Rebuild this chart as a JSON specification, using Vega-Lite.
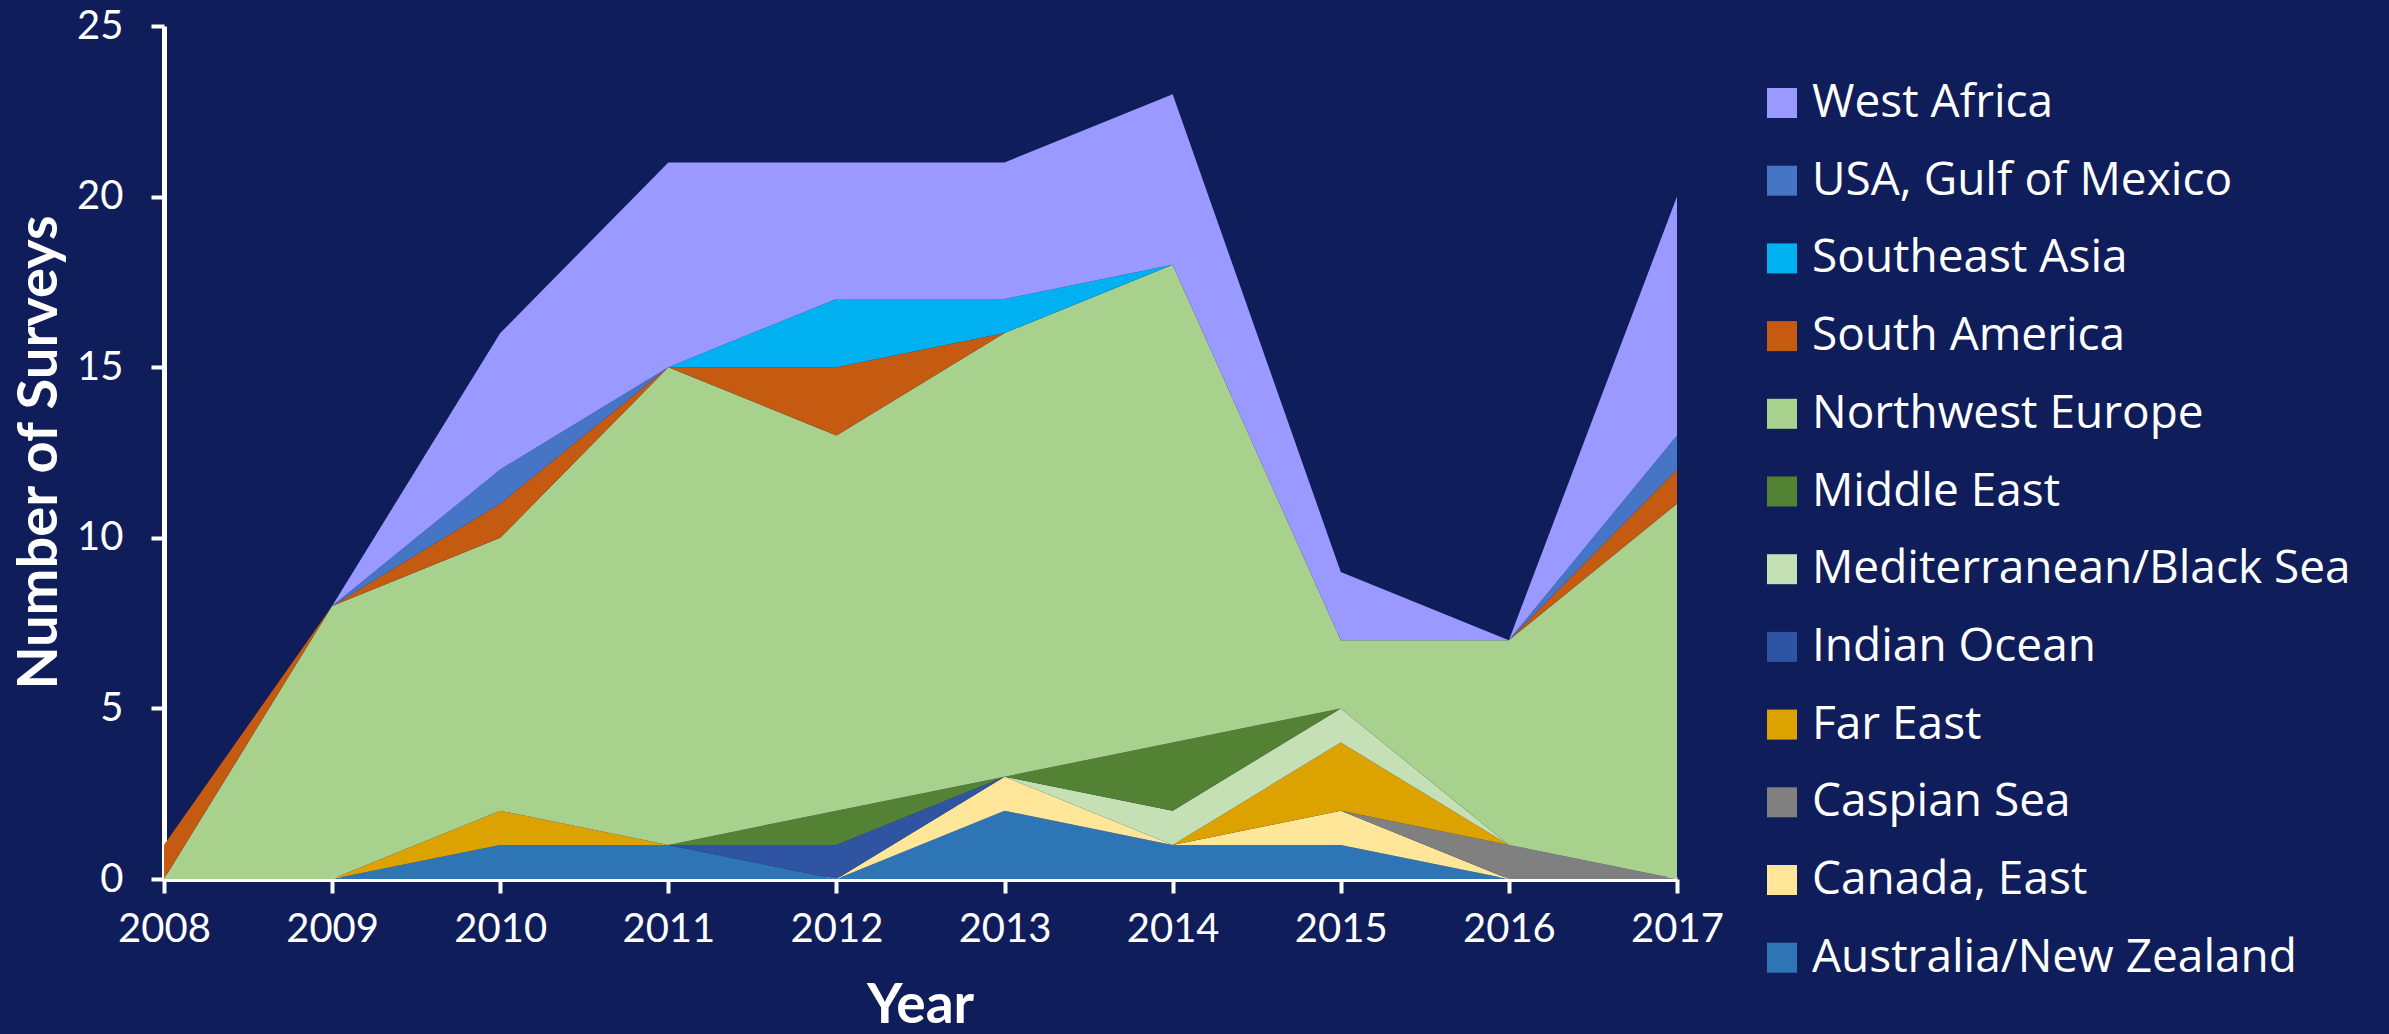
{
  "$schema": "https://vega.github.io/schema/vega-lite/v6.json",
  "autosize": "none",
  "width": 1513,
  "height": 853,
  "padding": {"left": 164, "top": 26, "right": 712, "bottom": 155},
  "background": "#101D5B",
  "config": {
    "view": {"stroke": null},
    "font": "Lato"
  },
  "data": {
    "values": [
      {"year": 2008, "region": "Australia/New Zealand", "k": 1, "n": 0},
      {"year": 2009, "region": "Australia/New Zealand", "k": 1, "n": 0},
      {"year": 2010, "region": "Australia/New Zealand", "k": 1, "n": 1},
      {"year": 2011, "region": "Australia/New Zealand", "k": 1, "n": 1},
      {"year": 2012, "region": "Australia/New Zealand", "k": 1, "n": 0},
      {"year": 2013, "region": "Australia/New Zealand", "k": 1, "n": 2},
      {"year": 2014, "region": "Australia/New Zealand", "k": 1, "n": 1},
      {"year": 2015, "region": "Australia/New Zealand", "k": 1, "n": 1},
      {"year": 2016, "region": "Australia/New Zealand", "k": 1, "n": 0},
      {"year": 2017, "region": "Australia/New Zealand", "k": 1, "n": 0},
      {"year": 2008, "region": "Canada, East", "k": 2, "n": 0},
      {"year": 2009, "region": "Canada, East", "k": 2, "n": 0},
      {"year": 2010, "region": "Canada, East", "k": 2, "n": 0},
      {"year": 2011, "region": "Canada, East", "k": 2, "n": 0},
      {"year": 2012, "region": "Canada, East", "k": 2, "n": 0},
      {"year": 2013, "region": "Canada, East", "k": 2, "n": 1},
      {"year": 2014, "region": "Canada, East", "k": 2, "n": 0},
      {"year": 2015, "region": "Canada, East", "k": 2, "n": 1},
      {"year": 2016, "region": "Canada, East", "k": 2, "n": 0},
      {"year": 2017, "region": "Canada, East", "k": 2, "n": 0},
      {"year": 2008, "region": "Caspian Sea", "k": 3, "n": 0},
      {"year": 2009, "region": "Caspian Sea", "k": 3, "n": 0},
      {"year": 2010, "region": "Caspian Sea", "k": 3, "n": 0},
      {"year": 2011, "region": "Caspian Sea", "k": 3, "n": 0},
      {"year": 2012, "region": "Caspian Sea", "k": 3, "n": 0},
      {"year": 2013, "region": "Caspian Sea", "k": 3, "n": 0},
      {"year": 2014, "region": "Caspian Sea", "k": 3, "n": 0},
      {"year": 2015, "region": "Caspian Sea", "k": 3, "n": 0},
      {"year": 2016, "region": "Caspian Sea", "k": 3, "n": 1},
      {"year": 2017, "region": "Caspian Sea", "k": 3, "n": 0},
      {"year": 2008, "region": "Far East", "k": 4, "n": 0},
      {"year": 2009, "region": "Far East", "k": 4, "n": 0},
      {"year": 2010, "region": "Far East", "k": 4, "n": 1},
      {"year": 2011, "region": "Far East", "k": 4, "n": 0},
      {"year": 2012, "region": "Far East", "k": 4, "n": 0},
      {"year": 2013, "region": "Far East", "k": 4, "n": 0},
      {"year": 2014, "region": "Far East", "k": 4, "n": 0},
      {"year": 2015, "region": "Far East", "k": 4, "n": 2},
      {"year": 2016, "region": "Far East", "k": 4, "n": 0},
      {"year": 2017, "region": "Far East", "k": 4, "n": 0},
      {"year": 2008, "region": "Indian Ocean", "k": 5, "n": 0},
      {"year": 2009, "region": "Indian Ocean", "k": 5, "n": 0},
      {"year": 2010, "region": "Indian Ocean", "k": 5, "n": 0},
      {"year": 2011, "region": "Indian Ocean", "k": 5, "n": 0},
      {"year": 2012, "region": "Indian Ocean", "k": 5, "n": 1},
      {"year": 2013, "region": "Indian Ocean", "k": 5, "n": 0},
      {"year": 2014, "region": "Indian Ocean", "k": 5, "n": 0},
      {"year": 2015, "region": "Indian Ocean", "k": 5, "n": 0},
      {"year": 2016, "region": "Indian Ocean", "k": 5, "n": 0},
      {"year": 2017, "region": "Indian Ocean", "k": 5, "n": 0},
      {"year": 2008, "region": "Mediterranean/Black Sea", "k": 6, "n": 0},
      {"year": 2009, "region": "Mediterranean/Black Sea", "k": 6, "n": 0},
      {"year": 2010, "region": "Mediterranean/Black Sea", "k": 6, "n": 0},
      {"year": 2011, "region": "Mediterranean/Black Sea", "k": 6, "n": 0},
      {"year": 2012, "region": "Mediterranean/Black Sea", "k": 6, "n": 0},
      {"year": 2013, "region": "Mediterranean/Black Sea", "k": 6, "n": 0},
      {"year": 2014, "region": "Mediterranean/Black Sea", "k": 6, "n": 1},
      {"year": 2015, "region": "Mediterranean/Black Sea", "k": 6, "n": 1},
      {"year": 2016, "region": "Mediterranean/Black Sea", "k": 6, "n": 0},
      {"year": 2017, "region": "Mediterranean/Black Sea", "k": 6, "n": 0},
      {"year": 2008, "region": "Middle East", "k": 7, "n": 0},
      {"year": 2009, "region": "Middle East", "k": 7, "n": 0},
      {"year": 2010, "region": "Middle East", "k": 7, "n": 0},
      {"year": 2011, "region": "Middle East", "k": 7, "n": 0},
      {"year": 2012, "region": "Middle East", "k": 7, "n": 1},
      {"year": 2013, "region": "Middle East", "k": 7, "n": 0},
      {"year": 2014, "region": "Middle East", "k": 7, "n": 2},
      {"year": 2015, "region": "Middle East", "k": 7, "n": 0},
      {"year": 2016, "region": "Middle East", "k": 7, "n": 0},
      {"year": 2017, "region": "Middle East", "k": 7, "n": 0},
      {"year": 2008, "region": "Northwest Europe", "k": 8, "n": 0},
      {"year": 2009, "region": "Northwest Europe", "k": 8, "n": 8},
      {"year": 2010, "region": "Northwest Europe", "k": 8, "n": 8},
      {"year": 2011, "region": "Northwest Europe", "k": 8, "n": 14},
      {"year": 2012, "region": "Northwest Europe", "k": 8, "n": 11},
      {"year": 2013, "region": "Northwest Europe", "k": 8, "n": 13},
      {"year": 2014, "region": "Northwest Europe", "k": 8, "n": 14},
      {"year": 2015, "region": "Northwest Europe", "k": 8, "n": 2},
      {"year": 2016, "region": "Northwest Europe", "k": 8, "n": 6},
      {"year": 2017, "region": "Northwest Europe", "k": 8, "n": 11},
      {"year": 2008, "region": "South America", "k": 9, "n": 1},
      {"year": 2009, "region": "South America", "k": 9, "n": 0},
      {"year": 2010, "region": "South America", "k": 9, "n": 1},
      {"year": 2011, "region": "South America", "k": 9, "n": 0},
      {"year": 2012, "region": "South America", "k": 9, "n": 2},
      {"year": 2013, "region": "South America", "k": 9, "n": 0},
      {"year": 2014, "region": "South America", "k": 9, "n": 0},
      {"year": 2015, "region": "South America", "k": 9, "n": 0},
      {"year": 2016, "region": "South America", "k": 9, "n": 0},
      {"year": 2017, "region": "South America", "k": 9, "n": 1},
      {"year": 2008, "region": "Southeast Asia", "k": 10, "n": 0},
      {"year": 2009, "region": "Southeast Asia", "k": 10, "n": 0},
      {"year": 2010, "region": "Southeast Asia", "k": 10, "n": 0},
      {"year": 2011, "region": "Southeast Asia", "k": 10, "n": 0},
      {"year": 2012, "region": "Southeast Asia", "k": 10, "n": 2},
      {"year": 2013, "region": "Southeast Asia", "k": 10, "n": 1},
      {"year": 2014, "region": "Southeast Asia", "k": 10, "n": 0},
      {"year": 2015, "region": "Southeast Asia", "k": 10, "n": 0},
      {"year": 2016, "region": "Southeast Asia", "k": 10, "n": 0},
      {"year": 2017, "region": "Southeast Asia", "k": 10, "n": 0},
      {"year": 2008, "region": "USA, Gulf of Mexico", "k": 11, "n": 0},
      {"year": 2009, "region": "USA, Gulf of Mexico", "k": 11, "n": 0},
      {"year": 2010, "region": "USA, Gulf of Mexico", "k": 11, "n": 1},
      {"year": 2011, "region": "USA, Gulf of Mexico", "k": 11, "n": 0},
      {"year": 2012, "region": "USA, Gulf of Mexico", "k": 11, "n": 0},
      {"year": 2013, "region": "USA, Gulf of Mexico", "k": 11, "n": 0},
      {"year": 2014, "region": "USA, Gulf of Mexico", "k": 11, "n": 0},
      {"year": 2015, "region": "USA, Gulf of Mexico", "k": 11, "n": 0},
      {"year": 2016, "region": "USA, Gulf of Mexico", "k": 11, "n": 0},
      {"year": 2017, "region": "USA, Gulf of Mexico", "k": 11, "n": 1},
      {"year": 2008, "region": "West Africa", "k": 12, "n": 0},
      {"year": 2009, "region": "West Africa", "k": 12, "n": 0},
      {"year": 2010, "region": "West Africa", "k": 12, "n": 4},
      {"year": 2011, "region": "West Africa", "k": 12, "n": 6},
      {"year": 2012, "region": "West Africa", "k": 12, "n": 4},
      {"year": 2013, "region": "West Africa", "k": 12, "n": 4},
      {"year": 2014, "region": "West Africa", "k": 12, "n": 5},
      {"year": 2015, "region": "West Africa", "k": 12, "n": 2},
      {"year": 2016, "region": "West Africa", "k": 12, "n": 0},
      {"year": 2017, "region": "West Africa", "k": 12, "n": 7}
    ]
  },
  "mark": {"type": "area", "interpolate": "linear"},
  "encoding": {
    "x": {
      "field": "year",
      "type": "quantitative",
      "scale": {"domain": [2008, 2017], "nice": false, "zero": false},
      "axis": {
        "title": "Year",
        "values": [2008, 2009, 2010, 2011, 2012, 2013, 2014, 2015, 2016, 2017],
        "format": "d",
        "grid": false,
        "domainColor": "#FFFFFF",
        "domainWidth": 5,
        "tickColor": "#FFFFFF",
        "tickWidth": 4,
        "tickSize": 14,
        "labelColor": "#FFFFFF",
        "labelFont": "Lato",
        "labelFontSize": 40,
        "labelPadding": 16,
        "labelFlush": false,
        "labelOverlap": false,
        "titleColor": "#FFFFFF",
        "titleFont": "Lato",
        "titleFontSize": 55,
        "titleFontWeight": "bold",
        "titleBaseline": "alphabetic",
        "titleY": 143,
        "titleX": 756
      }
    },
    "y": {
      "field": "n",
      "type": "quantitative",
      "stack": "zero",
      "scale": {"domain": [0, 25], "nice": false},
      "axis": {
        "title": "Number of Surveys",
        "values": [0, 5, 10, 15, 20, 25],
        "grid": false,
        "domainColor": "#FFFFFF",
        "domainWidth": 5,
        "tickColor": "#FFFFFF",
        "tickWidth": 4,
        "tickSize": 13,
        "labelColor": "#FFFFFF",
        "labelFont": "Lato",
        "labelFontSize": 40,
        "labelPadding": 28,
        "labelFlush": false,
        "titleColor": "#FFFFFF",
        "titleFont": "Lato",
        "titleFontSize": 56,
        "titleFontWeight": "bold",
        "titleAngle": 270,
        "titleAlign": "center",
        "titleBaseline": "alphabetic",
        "titleX": -108,
        "titleY": 426
      }
    },
    "color": {
      "field": "region",
      "type": "nominal",
      "scale": {
        "domain": ["West Africa", "USA, Gulf of Mexico", "Southeast Asia", "South America", "Northwest Europe", "Middle East", "Mediterranean/Black Sea", "Indian Ocean", "Far East", "Caspian Sea", "Canada, East", "Australia/New Zealand"],
        "range": ["#9999FF", "#4775C6", "#00B0F0", "#C55A11", "#A9D18E", "#548235", "#C5E0B4", "#2F55A2", "#DBA200", "#808080", "#FFE699", "#2E75B6"]
      },
      "legend": {
        "title": null,
        "orient": "none",
        "legendX": 1595,
        "legendY": 54,
        "padding": 0,
        "symbolType": "square",
        "symbolSize": 900,
        "symbolStrokeWidth": 0,
        "symbolOpacity": 1,
        "labelColor": "#FFFFFF",
        "labelFont": "Open Sans",
        "labelFontSize": 46,
        "labelOffset": 7,
        "labelLimit": 700,
        "rowPadding": 31.7
      }
    },
    "order": {"field": "k", "type": "quantitative", "sort": "ascending"}
  }
}
